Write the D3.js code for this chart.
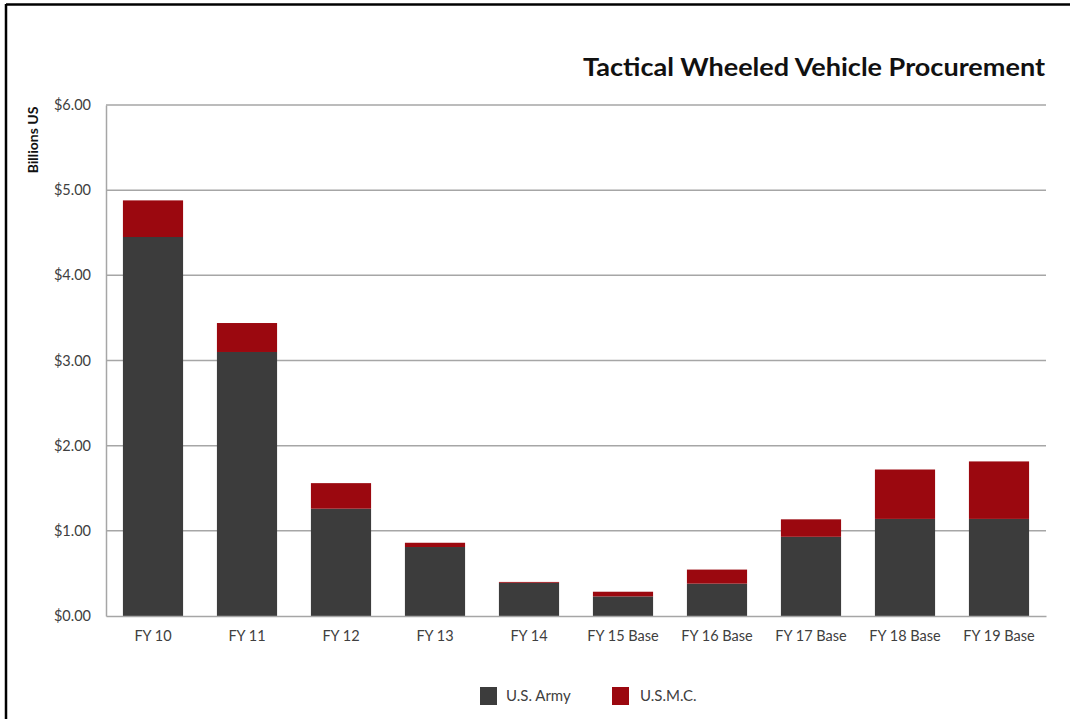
<!DOCTYPE html>
<html>
<head>
<meta charset="utf-8">
<script src="https://cdn.jsdelivr.net/npm/d3@7"></script>
<style>
  html, body { margin: 0; padding: 0; background: #fff; }
  svg { display: block; font-family: Lato, "Open Sans", sans-serif; }
</style>
</head>
<body>
<svg id="chart" width="1070" height="719"></svg>
<script>
// Fiscal years shown along the x axis
const categories = ["FY 10", "FY 11", "FY 12", "FY 13", "FY 14", "FY 15 Base",
                    "FY 16 Base", "FY 17 Base", "FY 18 Base", "FY 19 Base"];
// Procurement, billions of US dollars
const armyValues = [4.45, 3.10, 1.26, 0.81, 0.39, 0.23, 0.38, 0.93, 1.14, 1.14];
const usmcValues = [0.43, 0.34, 0.30, 0.05, 0.01, 0.055, 0.165, 0.205, 0.58, 0.675];
const seriesNames = ["U.S. Army", "U.S.M.C."];
const yTicks = [0, 1, 2, 3, 4, 5, 6];

const colors = { "U.S. Army": "#3c3c3c", "U.S.M.C.": "#9b080f" };

const svg = d3.select("#chart");
const W = 1070, H = 719;
const margin = { left: 106, right: 24, top: 105, bottom: 103 };
const plotW = W - margin.left - margin.right;
const plotH = H - margin.top - margin.bottom;

// Frame lines around the figure
svg.append("line").attr("x1", 6).attr("x2", W).attr("y1", 4.5).attr("y2", 4.5)
  .attr("stroke", "#000").attr("stroke-width", 2.5);
svg.append("line").attr("x1", 6).attr("x2", 6).attr("y1", 4).attr("y2", H)
  .attr("stroke", "#000").attr("stroke-width", 2.5);

const rows = categories.map((c, i) => ({
  cat: c, "U.S. Army": armyValues[i], "U.S.M.C.": usmcValues[i]
}));
const stacked = d3.stack().keys(seriesNames)(rows);

const x = d3.scaleBand().domain(categories).range([0, plotW]).paddingInner(0.36).paddingOuter(0.18);
const y = d3.scaleLinear().domain([0, 6]).range([plotH, 0]);

const g = svg.append("g").attr("transform", `translate(${margin.left},${margin.top})`);

// Horizontal gridlines
g.append("g").selectAll("line").data(yTicks.filter(d => d > 0)).join("line")
  .attr("x1", 0).attr("x2", plotW)
  .attr("y1", d => y(d)).attr("y2", d => y(d))
  .attr("stroke", "#a6a6a6").attr("stroke-width", 1.5);

// Stacked bars
g.append("g").selectAll("g").data(stacked).join("g")
  .attr("fill", d => colors[d.key])
  .selectAll("rect").data(d => d).join("rect")
  .attr("x", d => x(d.data.cat))
  .attr("width", x.bandwidth())
  .attr("y", d => y(d[1]))
  .attr("height", d => y(d[0]) - y(d[1]));

// Y axis
const yAxis = g.append("g")
  .call(d3.axisLeft(y).tickValues(yTicks).tickSize(0).tickPadding(15)
    .tickFormat(d => "$" + d3.format(".2f")(d)));
yAxis.select(".domain").attr("stroke", "#a6a6a6").attr("stroke-width", 1.5);
yAxis.selectAll("text").attr("font-size", 14.5).attr("fill", "#404040")
  .attr("font-family", "Lato, 'Open Sans', sans-serif");

// X axis
const xAxis = g.append("g").attr("transform", `translate(0,${plotH})`)
  .call(d3.axisBottom(x).tickSize(0).tickPadding(15));
xAxis.select(".domain").attr("stroke", "#a6a6a6").attr("stroke-width", 1.5);
xAxis.selectAll("text").attr("font-size", 14.5).attr("fill", "#404040")
  .attr("font-family", "Lato, 'Open Sans', sans-serif");

// Axis title
svg.append("text")
  .attr("transform", "translate(38,140) rotate(-90)")
  .attr("text-anchor", "middle")
  .attr("font-size", 14).attr("font-weight", "bold").attr("fill", "#111")
  .text("Billions US");

// Chart title
svg.append("text")
  .attr("x", 1045).attr("y", 76)
  .attr("text-anchor", "end")
  .attr("font-size", 25).attr("font-weight", "bold").attr("fill", "#111")
  .attr("textLength", 462).attr("lengthAdjust", "spacingAndGlyphs")
  .text("Tactical Wheeled Vehicle Procurement");

// Legend
const legendX = [480, 612];
const legend = svg.append("g").selectAll("g").data(seriesNames).join("g")
  .attr("transform", (d, i) => `translate(${legendX[i]},687)`);
legend.append("rect").attr("width", 17).attr("height", 18)
  .attr("fill", d => colors[d]);
legend.append("text").attr("x", d => d === "U.S. Army" ? 26 : 28).attr("y", 14)
  .attr("font-size", 15).attr("fill", "#404040")
  .text(d => d);
</script>
</body>
</html>
